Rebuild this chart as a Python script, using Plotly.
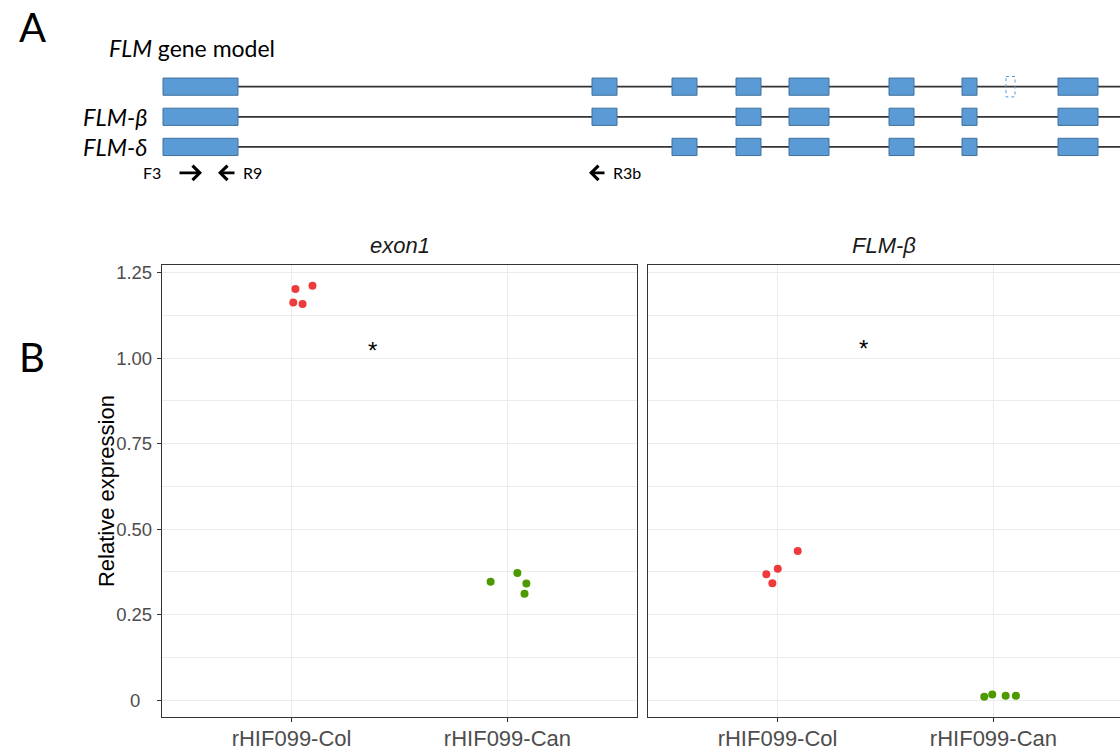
import plotly.graph_objects as go

# ---------------- data ----------------
groups = ["rHIF099-Col", "rHIF099-Can"]
targets = ["exon1", "FLM-β"]

exon1_col = [1.2025, 1.212, 1.1626, 1.1588]
exon1_can = [0.346, 0.372, 0.341, 0.311]
flmb_col = [0.436, 0.384, 0.368, 0.342]
flmb_can = [0.0096, 0.0166, 0.0125, 0.0125]

# horizontal jitter (category units)
exon1_col_jit = [0.018, 0.097, 0.008, 0.051]
exon1_can_jit = [-0.078, 0.046, 0.0875, 0.079]
flmb_col_jit = [0.0935, 0.001, -0.052, -0.024]
flmb_can_jit = [-0.0426, -0.0056, 0.0565, 0.104]

sig_x = [1.377, 1.40]
sig_y = [1.023, 1.029]
sig_label = ["*", "*"]

y_ticks = [0, 0.25, 0.5, 0.75, 1.0, 1.25]
y_ticktext = ["0\u2007\u200a", "0.25", "0.50", "0.75", "1.00", "1.25"]
y_title = "Relative expression"

# gene model (schematic units)
exon_start = [163, 592, 672, 736, 789, 889, 962, 1058]
exon_end = [238, 617, 697, 761, 829, 914, 977, 1098]
extra_exon = (1006, 1015)
isoforms = ["", "FLM-β", "FLM-δ"]
isoform_exons = [[0, 1, 2, 3, 4, 5, 6, 7], [0, 1, 3, 4, 5, 6, 7], [0, 2, 3, 4, 5, 6, 7]]
primers = [("F3", 178, 202), ("R9", 236, 218), ("R3b", 606, 589)]

# ---------------- styling ----------------
W, H = 1120, 754
RED = "#EE3A3A"
GREEN = "#4C9900"
BORDER = "#333333"
GRID = "#EBEBEB"
TICKCOL = "#4D4D4D"
EXFILL = "#5B9BD5"
EXLINE = "#41719C"
GFONT = "Lato"
PFONT = "Liberation Sans, Arial"

fig = go.Figure()

x_positions = {g: i + 1 for i, g in enumerate(groups)}

def pts(vals, jit, grp, color, xa, ya):
    fig.add_trace(go.Scatter(
        x=[x_positions[grp] + j for j in jit], y=vals, mode="markers",
        marker=dict(size=8, color=color), xaxis=xa, yaxis=ya,
        showlegend=False, hoverinfo="skip"))

pts(exon1_col, exon1_col_jit, groups[0], RED, "x", "y")
pts(exon1_can, exon1_can_jit, groups[1], GREEN, "x", "y")
pts(flmb_col, flmb_col_jit, groups[0], RED, "x2", "y2")
pts(flmb_can, flmb_can_jit, groups[1], GREEN, "x2", "y2")

# panel geometry (pixels)
p_top, p_bot = 263, 717
p1_l, p1_r = 162, 637
p2_l = 648
px_per_unit = (p1_r - p1_l) / 2.2
p2_range_hi = 0.4 + (W - p2_l) / px_per_unit

ydom = [(H - p_bot) / H, (H - p_top) / H]
yrange = [-0.05, 1.2728]

common_x = dict(
    tickvals=[1, 2], ticktext=groups, showgrid=True, gridcolor=GRID, gridwidth=1.1,
    zeroline=False, showline=True, linecolor=BORDER, linewidth=1.3,
    ticks="outside", ticklen=4, tickcolor=BORDER, tickwidth=1.1,
    tickfont=dict(family=PFONT, size=22, color=TICKCOL), ticklabelstandoff=-3,
)
common_y = dict(
    range=yrange, domain=ydom, tickvals=y_ticks, showgrid=True, gridcolor=GRID,
    gridwidth=1.1, zeroline=False, showline=True, linecolor=BORDER, linewidth=1.3,
    minor=dict(dtick=0.125, tick0=0, showgrid=True, gridcolor=GRID, gridwidth=0.6),
)

fig.update_layout(
    width=W, height=H, margin=dict(l=0, r=0, t=0, b=0),
    paper_bgcolor="white", plot_bgcolor="rgba(0,0,0,0)",
    xaxis=dict(common_x, domain=[p1_l / W, p1_r / W], range=[0.4, 2.6], mirror=True, anchor="y"),
    yaxis=dict(common_y, mirror=True, ticks="outside", ticklen=4, tickcolor=BORDER, tickwidth=1.1,
               ticktext=y_ticktext, tickfont=dict(family=PFONT, size=18.5, color=TICKCOL),
               anchor="x", ticklabelstandoff=1),
    xaxis2=dict(common_x, domain=[p2_l / W, 1.0], range=[0.4, p2_range_hi], mirror=True, anchor="y2"),
    yaxis2=dict(common_y, mirror=False, showticklabels=False, ticks="", anchor="x2"),
    xaxis3=dict(domain=[0, 1], range=[0, W], visible=False, anchor="y3", fixedrange=True),
    yaxis3=dict(domain=[0, 1], range=[H, 0], visible=False, anchor="x3", fixedrange=True),
)

# y-axis title
fig.add_annotation(text=y_title, textangle=-90, xref="paper", yref="y domain", x=106 / W, y=0.5,
                   xanchor="center", yanchor="middle", showarrow=False,
                   font=dict(family=PFONT, size=22, color="black"))

# facet titles
for i, t in enumerate(targets):
    fig.add_annotation(text=f"<i>{t}</i>", xref=f"x{'' if i == 0 else 2} domain", yref="paper",
                       x=0.5, y=(H - 243) / H, showarrow=False,
                       font=dict(family=PFONT, size=22, color="#1A1A1A"), xanchor="center", yanchor="middle")

# significance marks
for i, (sx, sy, lab) in enumerate(zip(sig_x, sig_y, sig_label)):
    fig.add_annotation(text=lab, x=sx, y=sy, xref="x" if i == 0 else "x2", yref="y" if i == 0 else "y2",
                       showarrow=False, font=dict(family=PFONT, size=24, color="black"))

# ---------------- gene model ----------------
row_y = lambda i: 84 + 30.25 * i
half_h = 8.65
shapes = []
for r, exs in enumerate(isoform_exons):
    yc = row_y(r)
    shapes.append(dict(type="line", xref="x3", yref="y3", x0=exon_end[0], x1=W + 5, y0=yc, y1=yc,
                       line=dict(color="#333333", width=1.7), layer="above"))
    for e in exs:
        shapes.append(dict(type="rect", xref="x3", yref="y3", x0=exon_start[e], x1=exon_end[e],
                           y0=yc - half_h, y1=yc + half_h, fillcolor=EXFILL,
                           line=dict(color=EXLINE, width=1), layer="above"))
shapes.append(dict(type="rect", xref="x3", yref="y3", x0=extra_exon[0], x1=extra_exon[1],
                   y0=row_y(0) - 10.2, y1=row_y(0) + 10.2, fillcolor="rgba(0,0,0,0)",
                   line=dict(color=EXFILL, width=1, dash="dot"), layer="above"))
fig.update_layout(shapes=shapes)

for r, name in enumerate(isoforms):
    if name:
        fig.add_annotation(text=f"<i>{name}</i>", x=149, y=row_y(r), xref="x3", yref="y3",
                           xanchor="right", yanchor="middle", showarrow=False,
                           font=dict(family=GFONT, size=23.5, color="black"))
fig.add_annotation(text="<i>FLM</i> gene model", x=107, y=45, xref="x3", yref="y3",
                   xanchor="left", yanchor="middle", showarrow=False,
                   font=dict(family=GFONT, size=23, color="black"))

primer_y = 170.5
for name, tail, head in primers:
    fig.add_annotation(x=head, y=primer_y, ax=tail, ay=primer_y, xref="x3", yref="y3",
                       axref="x3", ayref="y3", text="", showarrow=True, arrowhead=4,
                       arrowsize=1.0, arrowwidth=2.8, arrowcolor="black")
    if name == "F3":
        fig.add_annotation(text=name, x=min(head, tail) - 15, y=primer_y, xref="x3", yref="y3",
                           xanchor="right", yanchor="middle", showarrow=False,
                           font=dict(family=GFONT, size=16, color="black"))
    else:
        fig.add_annotation(text=name, x=max(head, tail) + 5, y=primer_y, xref="x3", yref="y3",
                           xanchor="left", yanchor="middle", showarrow=False,
                           font=dict(family=GFONT, size=16, color="black"))

# panel letters
for lab, yc in [("A", 24), ("B", 355)]:
    fig.add_annotation(text=lab, x=32, y=yc, xref="x3", yref="y3", xanchor="center", yanchor="middle",
                       showarrow=False, font=dict(family=GFONT, size=40, color="black"))

fig.write_html("out.html", config={"displayModeBar": False},
               post_script="document.body.style.margin='0';document.body.style.overflow='hidden';")
